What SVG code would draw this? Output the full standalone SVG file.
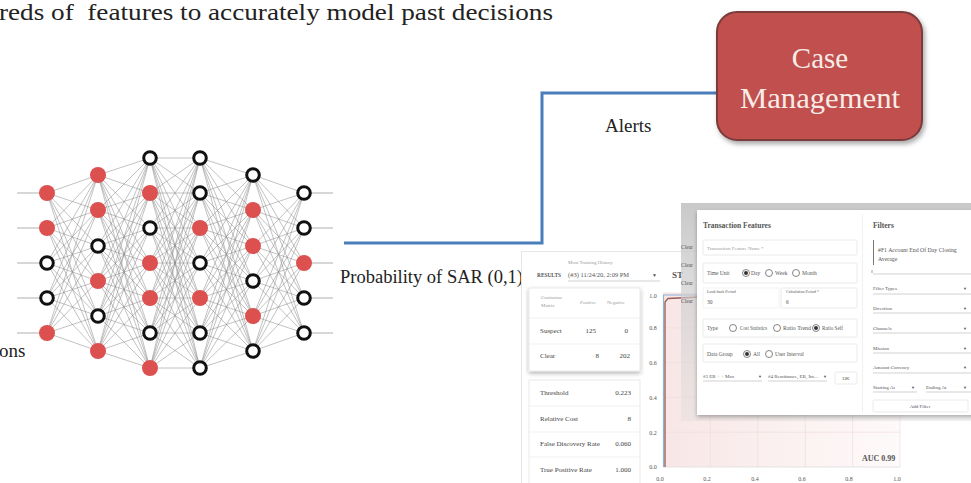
<svg xmlns="http://www.w3.org/2000/svg" width="971" height="483" viewBox="0 0 971 483" font-family="'Liberation Serif', 'Times New Roman', 'DejaVu Serif', serif">
<defs>
<style>
text{font-family:"Liberation Serif","Times New Roman","DejaVu Serif",serif}
.nn{stroke:#8a8a8a;stroke-width:0.7;fill:none;opacity:0.75}
.io{stroke:#b0b0b0;stroke-width:1.2}
.red{fill:#dc5050}
.open{fill:#fff;stroke:#111;stroke-width:3}
.ui{fill:#555}
.lbl{font-size:5px;fill:#9a9a9a}
.sm{font-size:5.5px}
.val{font-size:7px;fill:#444}
.box{fill:#fff;stroke:#e4e4e4;stroke-width:0.8}
.uline{stroke:#bdbdbd;stroke-width:0.7}
.grid{stroke:#f2dcdc;stroke-width:0.7}
.rad{fill:#fff;stroke:#666;stroke-width:0.8}
.conn{fill:none;stroke:#4a7ebb;stroke-width:3}
</style>
<filter id="sh" x="-10%" y="-10%" width="125%" height="130%"><feDropShadow dx="2" dy="3" stdDeviation="2.5" flood-color="#000" flood-opacity="0.35"/></filter>
<filter id="dsh" x="-10%" y="-10%" width="120%" height="125%"><feDropShadow dx="0" dy="2" stdDeviation="2" flood-color="#000" flood-opacity="0.3"/></filter>
<linearGradient id="gray" x1="0" y1="0" x2="0" y2="1"><stop offset="0" stop-color="#c6c6c6" stop-opacity="0.95"/><stop offset="1" stop-color="#d8d8d8" stop-opacity="0.3"/></linearGradient>
<linearGradient id="pink" x1="0" y1="0" x2="1" y2="0"><stop offset="0" stop-color="#f8e6e6"/><stop offset="1" stop-color="#fefafa"/></linearGradient>
</defs>
<rect width="971" height="483" fill="#fff"/>

<g id="header-text">
<text x="-1" y="20" font-size="22.5" fill="#222" textLength="554" lengthAdjust="spacingAndGlyphs" xml:space="preserve">reds of  features to accurately model past decisions</text>
<text x="-1" y="357" font-size="19" fill="#222">ons</text>
</g>

<g id="neural-network">
<g class="io">
<path d="M17 193H47M17 228H47M17 263H47M17 298H47M17 333H47M304 193H333M304 228H333M304 263H333M304 298H333M304 333H333"/>
</g>
<path class="nn" d="M47 193L98 175M47 193L98 210M47 193L98 246M47 193L98 281M47 193L98 316M47 193L98 351M47 228L98 175M47 228L98 210M47 228L98 246M47 228L98 281M47 228L98 316M47 228L98 351M47 263L98 175M47 263L98 210M47 263L98 246M47 263L98 281M47 263L98 316M47 263L98 351M47 298L98 175M47 298L98 210M47 298L98 246M47 298L98 281M47 298L98 316M47 298L98 351M47 333L98 175M47 333L98 210M47 333L98 246M47 333L98 281M47 333L98 316M47 333L98 351"/>
<path class="nn" d="M98 175L150 158M98 175L150 193M98 175L150 228M98 175L150 263M98 175L150 298M98 175L150 333M98 175L150 368M98 210L150 158M98 210L150 193M98 210L150 228M98 210L150 263M98 210L150 298M98 210L150 333M98 210L150 368M98 246L150 158M98 246L150 193M98 246L150 228M98 246L150 263M98 246L150 298M98 246L150 333M98 246L150 368M98 281L150 158M98 281L150 193M98 281L150 228M98 281L150 263M98 281L150 298M98 281L150 333M98 281L150 368M98 316L150 158M98 316L150 193M98 316L150 228M98 316L150 263M98 316L150 298M98 316L150 333M98 316L150 368M98 351L150 158M98 351L150 193M98 351L150 228M98 351L150 263M98 351L150 298M98 351L150 333M98 351L150 368"/>
<path class="nn" d="M150 158L200 158M150 158L200 193M150 158L200 228M150 158L200 263M150 158L200 298M150 158L200 333M150 158L200 368M150 193L200 158M150 193L200 193M150 193L200 228M150 193L200 263M150 193L200 298M150 193L200 333M150 193L200 368M150 228L200 158M150 228L200 193M150 228L200 228M150 228L200 263M150 228L200 298M150 228L200 333M150 228L200 368M150 263L200 158M150 263L200 193M150 263L200 228M150 263L200 263M150 263L200 298M150 263L200 333M150 263L200 368M150 298L200 158M150 298L200 193M150 298L200 228M150 298L200 263M150 298L200 298M150 298L200 333M150 298L200 368M150 333L200 158M150 333L200 193M150 333L200 228M150 333L200 263M150 333L200 298M150 333L200 333M150 333L200 368M150 368L200 158M150 368L200 193M150 368L200 228M150 368L200 263M150 368L200 298M150 368L200 333M150 368L200 368"/>
<path class="nn" d="M200 158L253 175M200 158L253 210M200 158L253 246M200 158L253 281M200 158L253 316M200 158L253 351M200 193L253 175M200 193L253 210M200 193L253 246M200 193L253 281M200 193L253 316M200 193L253 351M200 228L253 175M200 228L253 210M200 228L253 246M200 228L253 281M200 228L253 316M200 228L253 351M200 263L253 175M200 263L253 210M200 263L253 246M200 263L253 281M200 263L253 316M200 263L253 351M200 298L253 175M200 298L253 210M200 298L253 246M200 298L253 281M200 298L253 316M200 298L253 351M200 333L253 175M200 333L253 210M200 333L253 246M200 333L253 281M200 333L253 316M200 333L253 351M200 368L253 175M200 368L253 210M200 368L253 246M200 368L253 281M200 368L253 316M200 368L253 351"/>
<path class="nn" d="M253 175L304 193M253 175L304 228M253 175L304 263M253 175L304 298M253 175L304 333M253 210L304 193M253 210L304 228M253 210L304 263M253 210L304 298M253 210L304 333M253 246L304 193M253 246L304 228M253 246L304 263M253 246L304 298M253 246L304 333M253 281L304 193M253 281L304 228M253 281L304 263M253 281L304 298M253 281L304 333M253 316L304 193M253 316L304 228M253 316L304 263M253 316L304 298M253 316L304 333M253 351L304 193M253 351L304 228M253 351L304 263M253 351L304 298M253 351L304 333"/>
<g id="layer1">
<circle class="red" cx="47" cy="193" r="8"/><circle class="red" cx="47" cy="228" r="8"/><circle class="open" cx="47" cy="263" r="6.3"/><circle class="open" cx="47" cy="298" r="6.3"/><circle class="red" cx="47" cy="333" r="8"/>
</g>
<g id="layer2">
<circle class="red" cx="98" cy="175" r="8"/><circle class="red" cx="98" cy="210" r="8"/><circle class="open" cx="98" cy="246" r="6.3"/><circle class="red" cx="98" cy="281" r="8"/><circle class="open" cx="98" cy="316" r="6.3"/><circle class="red" cx="98" cy="351" r="8"/>
</g>
<g id="layer3">
<circle class="open" cx="150" cy="158" r="6.3"/><circle class="red" cx="150" cy="193" r="8"/><circle class="open" cx="150" cy="228" r="6.3"/><circle class="red" cx="150" cy="263" r="8"/><circle class="red" cx="150" cy="298" r="8"/><circle class="open" cx="150" cy="333" r="6.3"/><circle class="red" cx="150" cy="368" r="8"/>
</g>
<g id="layer4">
<circle class="open" cx="200" cy="158" r="6.3"/><circle class="open" cx="200" cy="193" r="6.3"/><circle class="red" cx="200" cy="228" r="8"/><circle class="open" cx="200" cy="263" r="6.3"/><circle class="red" cx="200" cy="298" r="8"/><circle class="open" cx="200" cy="333" r="6.3"/><circle class="open" cx="200" cy="368" r="6.3"/>
</g>
<g id="layer5">
<circle class="open" cx="253" cy="175" r="6.3"/><circle class="red" cx="253" cy="210" r="8"/><circle class="red" cx="253" cy="246" r="8"/><circle class="open" cx="253" cy="281" r="6.3"/><circle class="red" cx="253" cy="316" r="8"/><circle class="open" cx="253" cy="351" r="6.3"/>
</g>
<g id="layer6">
<circle class="open" cx="304" cy="193" r="6.3"/><circle class="open" cx="304" cy="228" r="6.3"/><circle class="red" cx="304" cy="263" r="8"/><circle class="open" cx="304" cy="298" r="6.3"/><circle class="open" cx="304" cy="333" r="6.3"/>
</g>
</g>

<g id="connectors">
<path class="conn" d="M717 93H542V243H344"/>
<text x="605" y="132" font-size="19" fill="#222">Alerts</text>
<text x="340" y="283" font-size="19" fill="#222" textLength="183" lengthAdjust="spacingAndGlyphs">Probability of SAR (0,1)</text>
</g>

<g id="case-management">
<rect x="717" y="12" width="205" height="128" rx="20" fill="#c0504d" stroke="#7a3a3a" stroke-width="2" filter="url(#sh)"/>
<text x="820" y="68" font-size="29" fill="#f8ece8" text-anchor="middle">Case</text>
<text x="820" y="108" font-size="29" fill="#f8ece8" text-anchor="middle" textLength="160" lengthAdjust="spacingAndGlyphs">Management</text>
</g>

<g id="results-screen">
<rect x="521" y="251" width="450" height="232" fill="#fff"/>
<path d="M521 251.5H971M521.5 251V483" stroke="#e6e6e6" stroke-width="1"/>
<text class="ui lbl" x="568" y="264" font-size="4.5">Most Training History</text>
<text class="ui" x="537" y="277" font-size="6.5" font-weight="bold" fill="#333" textLength="24" lengthAdjust="spacingAndGlyphs">RESULTS</text>
<text class="ui" x="568" y="277" font-size="6.5" fill="#444">(#3) 11/24/20, 2:09 PM</text>
<text class="ui" x="652" y="277" font-size="5" fill="#555">▼</text>
<line class="uline" x1="568" y1="281" x2="660" y2="281"/>
<text class="ui" x="672" y="278" font-size="9" font-weight="bold" fill="#333">ST</text>

<rect class="box" x="529" y="288" width="111" height="83" filter="url(#dsh)"/>
<text class="ui lbl" x="541" y="299" font-size="5">Confusion</text>
<text class="ui lbl" x="541" y="307" font-size="5">Matrix</text>
<text class="ui lbl" x="580" y="304" font-size="5">Positive</text>
<text class="ui lbl" x="607" y="304" font-size="5">Negative</text>
<path d="M529 318H640M529 344H640" stroke="#eee" stroke-width="0.8"/>
<text class="ui val" x="540" y="333">Suspect</text>
<text class="ui val" x="596" y="333" text-anchor="end">125</text>
<text class="ui val" x="628" y="333" text-anchor="end">0</text>
<text class="ui val" x="540" y="358">Clear</text>
<text class="ui val" x="599" y="358" text-anchor="end">8</text>
<text class="ui val" x="630" y="358" text-anchor="end">202</text>

<rect class="box" x="529" y="380" width="111" height="105"/>
<path d="M529 406H640M529 432H640M529 457H640" stroke="#eee" stroke-width="0.8"/>
<text class="ui val" x="540" y="395">Threshold</text>
<text class="ui val" x="631" y="395" text-anchor="end">0.223</text>
<text class="ui val" x="540" y="421">Relative Cost</text>
<text class="ui val" x="631" y="421" text-anchor="end">8</text>
<text class="ui val" x="540" y="446">False Discovery Rate</text>
<text class="ui val" x="631" y="446" text-anchor="end">0.060</text>
<text class="ui val" x="540" y="472">True Positive Rate</text>
<text class="ui val" x="631" y="472" text-anchor="end">1.000</text>

<rect x="663" y="293" width="237" height="174" fill="url(#pink)"/>
<path class="grid" d="M710.4 293V467M757.8 293V467M805.2 293V467M852.6 293V467M900 293V467M663 432.2H900M663 397.4H900M663 362.6H900M663 327.8H900M663 293H900"/>
<path d="M663 467H900" stroke="#ddd" stroke-width="0.8"/>
<path d="M663.5 467V295H900" fill="none" stroke="#8ab4d8" stroke-width="1.2"/>
<path d="M665 467V302L668 298.5L690 297.5L720 296" fill="none" stroke="#9a5a55" stroke-width="1.3"/>
<g class="ui" font-size="6" fill="#777" text-anchor="middle">
<text x="653" y="298">1.0</text><text x="653" y="330">0.8</text><text x="653" y="365">0.6</text><text x="653" y="400">0.4</text><text x="653" y="435">0.2</text><text x="653" y="469">0.0</text>
<text x="660" y="481">0.0</text><text x="707" y="481">0.2</text><text x="755" y="481">0.4</text><text x="802" y="481">0.6</text><text x="849" y="481">0.8</text><text x="897" y="481">1.0</text>
</g>
<text class="ui" x="862" y="461" font-size="8" font-weight="bold" fill="#333">AUC 0.99</text>
</g>

<g id="transaction-features-dialog">
<rect x="681" y="203" width="290" height="218" fill="url(#gray)"/>
<g class="ui" font-size="5.5" fill="#555">
<text x="681" y="249">Clear</text><text x="681" y="267">Clear</text><text x="681" y="285">Clear</text><text x="681" y="303">Clear</text>
</g>
<rect x="697" y="210" width="280" height="205" fill="#fff" filter="url(#dsh)"/>
<line x1="862.5" y1="214" x2="862.5" y2="412" stroke="#f0f0f0" stroke-width="1"/>
<text class="ui" x="703" y="228" font-size="7.5" font-weight="bold" fill="#333">Transaction Features</text>
<rect class="box" x="703" y="240" width="154" height="15" rx="1"/>
<text class="ui lbl" x="707" y="249.5">Transaction Feature Name *</text>
<rect class="box" x="703" y="263" width="154" height="20" rx="1"/>
<text class="ui sm" x="707" y="275">Time Unit</text>
<circle class="rad" cx="746" cy="273" r="3.5"/><circle cx="746" cy="273" r="2" fill="#333"/>
<text class="ui sm" x="751" y="275">Day</text>
<circle class="rad" cx="769" cy="273" r="3.5"/>
<text class="ui sm" x="775" y="275">Week</text>
<circle class="rad" cx="796" cy="273" r="3.5"/>
<text class="ui sm" x="802" y="275">Month</text>
<rect x="703" y="288" width="76" height="20" fill="#fff" stroke="#f0f0f0" stroke-width="0.8"/>
<text class="ui" x="707" y="293" font-size="4" fill="#bbb">Look-back Period</text>
<text class="ui" x="707" y="304" font-size="5.5" fill="#bbb">30</text>
<rect class="box" x="781" y="288" width="76" height="20" rx="1"/>
<text class="ui" x="786" y="293" font-size="4" fill="#999">Calculation Period *</text>
<text class="ui" x="786" y="304" font-size="5.5" fill="#444">6</text>
<rect class="box" x="703" y="319" width="154" height="18" rx="1"/>
<text class="ui sm" x="707" y="330">Type</text>
<circle class="rad" cx="733" cy="328" r="3.5"/>
<text class="ui sm" x="740" y="330" textLength="27" lengthAdjust="spacingAndGlyphs">Cost Statistics</text>
<circle class="rad" cx="777" cy="328" r="3.5"/>
<text class="ui sm" x="783" y="330" textLength="28" lengthAdjust="spacingAndGlyphs">Ratio Trend</text>
<circle class="rad" cx="816" cy="328" r="3.5"/><circle cx="816" cy="328" r="2" fill="#333"/>
<text class="ui sm" x="822" y="330" textLength="21" lengthAdjust="spacingAndGlyphs">Ratio Self</text>
<rect class="box" x="703" y="344" width="154" height="18" rx="1"/>
<text class="ui sm" x="707" y="356">Data Group</text>
<circle class="rad" cx="747" cy="354" r="3.5"/><circle cx="747" cy="354" r="2" fill="#333"/>
<text class="ui sm" x="753" y="356">All</text>
<circle class="rad" cx="769" cy="354" r="3.5"/>
<text class="ui sm" x="775" y="356">User Interval</text>
<text class="ui" x="703" y="378" font-size="5" fill="#555">#3 EB + + Max</text>
<text class="ui" x="758" y="378" font-size="4" fill="#555">▼</text>
<line class="uline" x1="703" y1="381" x2="762" y2="381"/>
<text class="ui" x="768" y="378" font-size="5" fill="#555">#4 Remittance, EB, Int...</text>
<text class="ui" x="823" y="378" font-size="4" fill="#555">▼</text>
<line class="uline" x1="768" y1="381" x2="827" y2="381"/>
<rect class="box" x="835" y="372" width="22" height="12" rx="1"/>
<text class="ui" x="846" y="380" font-size="5" fill="#bbb" text-anchor="middle">OK</text>

<text class="ui" x="873" y="228" font-size="7.5" font-weight="bold" fill="#333">Filters</text>
<line x1="873.5" y1="240" x2="873.5" y2="265" stroke="#777" stroke-width="1"/>
<text class="ui" x="878" y="252" font-size="5.8" fill="#333">#F1 Account End Of Day Closing</text>
<text class="ui" x="878" y="261" font-size="5.8" fill="#333">Average</text>
<line x1="872" y1="270" x2="872" y2="273" stroke="#777" stroke-width="0.7"/>
<line class="uline" x1="873" y1="274" x2="971" y2="274" stroke="#e0e0e0"/>
<g class="ui" font-size="5" fill="#999">
<text x="873" y="290">Filter Types</text>
<text x="873" y="310">Direction</text>
<text x="873" y="330">Channels</text>
<text x="873" y="350">Mission</text>
<text x="873" y="369">Amount Currency</text>
<text x="873" y="389">Starting At</text>
<text x="926" y="389">Ending At</text>
</g>
<g class="ui" font-size="4" fill="#666">
<text x="963" y="290">▼</text><text x="963" y="310">▼</text><text x="963" y="330">▼</text><text x="963" y="350">▼</text><text x="963" y="369">▼</text><text x="911" y="389">▼</text><text x="963" y="389">▼</text>
</g>
<path class="uline" d="M873 294H971M873 313H971M873 333H971M873 353H971M873 373H971M873 392H917M926 392H971"/>
<rect class="box" x="873" y="400" width="95" height="12" rx="1"/>
<text class="ui" x="920" y="408" font-size="5" fill="#c8c8c8" text-anchor="middle">Add Filter</text>
</g>
</svg>
